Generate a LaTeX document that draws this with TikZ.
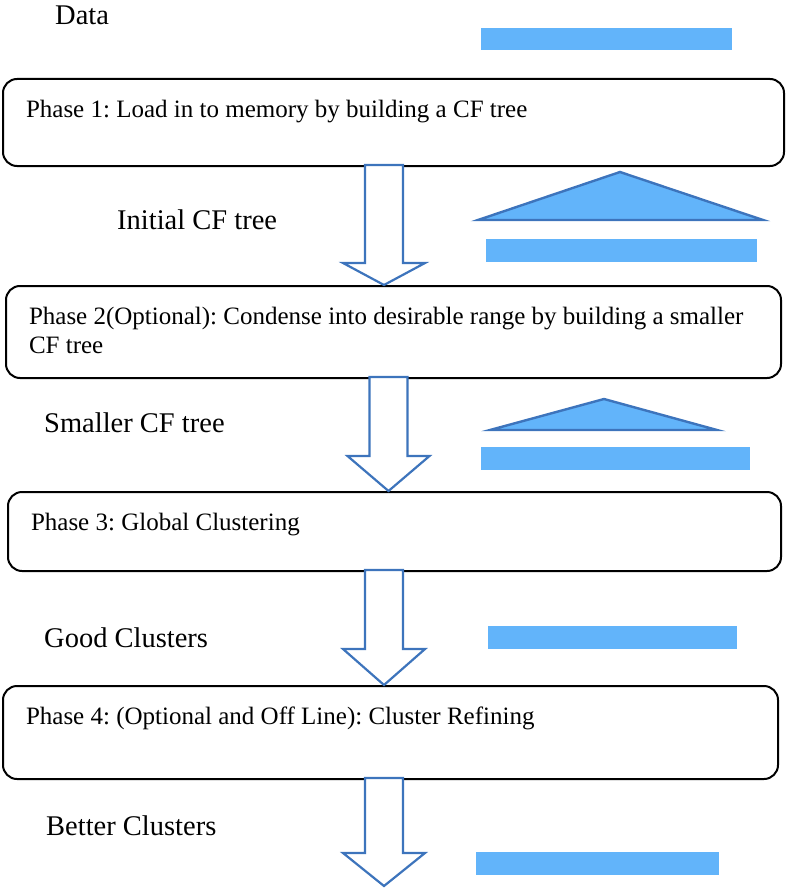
\documentclass[tikz,border=0pt]{standalone}
\usepackage{fontspec}
\setmainfont{Liberation Serif}
\usetikzlibrary{calc}

\definecolor{barblue}{HTML}{62B4FA}
\definecolor{lineblue}{HTML}{3D74BC}

\newcommand{\phasetext}[3]{\parbox[c][#2][t]{#1}{\raggedright #3}}

\begin{document}
\frenchspacing
\begin{tikzpicture}[x=1pt,y=-1pt,
  phase/.style={draw,line width=2pt,rounded corners=14pt,inner xsep=23pt,inner ysep=21pt,anchor=north west,font=\fontsize{25}{29}\selectfont},
  label/.style={anchor=base west,inner sep=0pt,font=\fontsize{28.5}{32}\selectfont},
  bar/.style={fill=barblue},
  tree/.style={fill=barblue,draw=lineblue,line width=2.4pt,line join=miter},
  flow/.style={draw=lineblue,fill=white,line width=2.2pt,line join=miter}]

       \useasboundingbox (0,0) rectangle (786,888);

       \node[phase] (p1) at (2,78) {\phasetext{735pt}{45pt}{Phase 1: Load in to memory by building a CF tree}};
       \node[phase] (p2) at (5,285) {\phasetext{729pt}{50pt}{Phase 2(Optional): Condense into desirable range by building a smaller\\CF tree}};
       \node[phase] (p3) at (7,491) {\phasetext{727pt}{37pt}{Phase 3: Global Clustering}};
       \node[phase] (p4) at (2,685) {\phasetext{729pt}{51pt}{Phase 4: (Optional and Off Line): Cluster Refining}};

       \node[label] (data) at (55,25) {Data};
       \node[label] (initial) at (117,229) {Initial CF tree};
       \node[label] (smaller) at (44,432) {Smaller CF tree};
       \node[label] (good) at (44,647) {Good Clusters};
       \node[label] (better) at (46,835) {Better Clusters};

       % data bars and trees
       \fill[bar] (481,28) rectangle (732,50);
       \draw[tree] (620,172) -- (763,220) -- (478,220) -- cycle;
       \fill[bar] (486,239) rectangle (757,262);
       \draw[tree] (604,399) -- (717,430) -- (490,430) -- cycle;
       \fill[bar] (481,447) rectangle (750,470);
       \fill[bar] (488,626) rectangle (737,649);
       \fill[bar] (476,852) rectangle (719,875);

       % block arrows between phases
       \coordinate (a1) at (384,165);
       \coordinate (t1) at (a1 |- p2.north);
       \coordinate (a2) at (388.5,377);
       \coordinate (t2) at (a2 |- p3.north);
       \coordinate (a3) at (384,570);
       \coordinate (t3) at (a3 |- p4.north);
       \coordinate (a4) at (384,778);
       \coordinate (t4) at (384,886);

       \foreach \s/\t/\h in {a1/t1/22,a2/t2/35,a3/t3/36,a4/t4/33}
         \draw[flow] ($(\s)+(-19,0)$) -- ($(\s)+(19,0)$) -- ($(\t)+(19,-\h)$) -- ($(\t)+(41,-\h)$)
           -- (\t) -- ($(\t)+(-41,-\h)$) -- ($(\t)+(-19,-\h)$) -- cycle;
     \end{tikzpicture}
\end{document}
